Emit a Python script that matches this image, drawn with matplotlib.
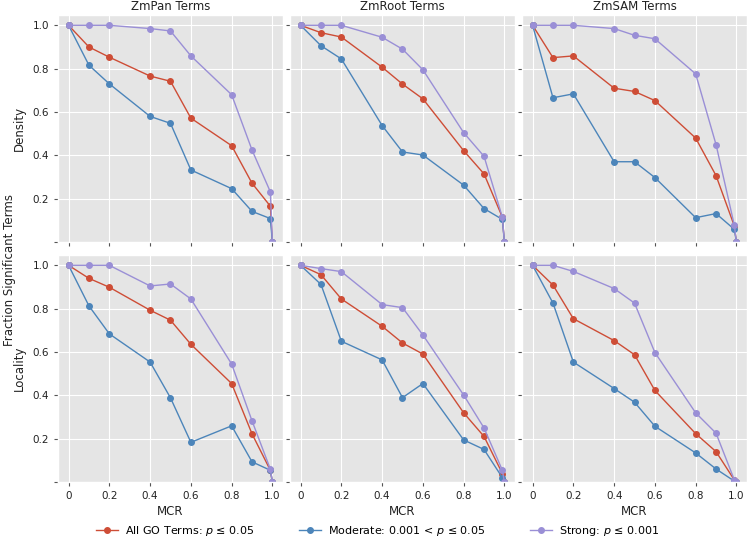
"""Fraction of significant GO terms against MCR, per network and metric."""

import matplotlib
matplotlib.use("Agg")
import matplotlib.pyplot as plt

# MCR values shared by every series
mcr = [0, 0.1, 0.2, 0.4, 0.5, 0.6, 0.8, 0.9, 0.99, 1.0]

networks = ["ZmPan Terms", "ZmRoot Terms", "ZmSAM Terms"]
metrics = ["Density", "Locality"]
series_labels = [
    "All GO Terms: $p$ \u2264 0.05",
    "Moderate: 0.001 < $p$ \u2264 0.05",
    "Strong: $p$ \u2264 0.001",
]

# Density row
pan_density_all = [1.0, 0.900, 0.853, 0.766, 0.742, 0.572, 0.445, 0.272, 0.166, 0.0]
pan_density_mod = [1.0, 0.816, 0.730, 0.580, 0.548, 0.333, 0.247, 0.142, 0.109, 0.0]
pan_density_str = [1.0, 1.0, 1.0, 0.985, 0.974, 0.859, 0.680, 0.425, 0.232, 0.0]

root_density_all = [1.0, 0.966, 0.946, 0.807, 0.729, 0.661, 0.422, 0.315, 0.115, 0.0]
root_density_mod = [1.0, 0.906, 0.845, 0.538, 0.416, 0.402, 0.263, 0.155, 0.105, 0.0]
root_density_str = [1.0, 1.0, 1.0, 0.945, 0.890, 0.795, 0.505, 0.396, 0.115, 0.0]

sam_density_all = [1.0, 0.851, 0.859, 0.710, 0.695, 0.653, 0.480, 0.307, 0.074, 0.0]
sam_density_mod = [1.0, 0.666, 0.684, 0.371, 0.371, 0.298, 0.113, 0.132, 0.059, 0.0]
sam_density_str = [1.0, 1.0, 1.0, 0.985, 0.954, 0.938, 0.776, 0.450, 0.077, 0.0]

# Locality row
pan_locality_all = [1.0, 0.940, 0.899, 0.793, 0.747, 0.636, 0.455, 0.223, 0.055, 0.0]
pan_locality_mod = [1.0, 0.813, 0.684, 0.554, 0.389, 0.184, 0.260, 0.094, 0.055, 0.0]
pan_locality_str = [1.0, 1.0, 1.0, 0.905, 0.914, 0.845, 0.545, 0.283, 0.060, 0.0]

root_locality_all = [1.0, 0.957, 0.845, 0.719, 0.642, 0.591, 0.320, 0.211, 0.040, 0.0]
root_locality_mod = [1.0, 0.912, 0.650, 0.564, 0.390, 0.455, 0.195, 0.151, 0.021, 0.0]
root_locality_str = [1.0, 0.985, 0.971, 0.819, 0.805, 0.679, 0.402, 0.250, 0.055, 0.0]

sam_locality_all = [1.0, 0.909, 0.754, 0.653, 0.588, 0.423, 0.224, 0.141, 0.010, 0.0]
sam_locality_mod = [1.0, 0.826, 0.554, 0.432, 0.369, 0.258, 0.135, 0.061, 0.005, 0.0]
sam_locality_str = [1.0, 1.0, 0.972, 0.893, 0.826, 0.598, 0.320, 0.226, 0.010, 0.0]

grid = [
    [
        (pan_density_all, pan_density_mod, pan_density_str),
        (root_density_all, root_density_mod, root_density_str),
        (sam_density_all, sam_density_mod, sam_density_str),
    ],
    [
        (pan_locality_all, pan_locality_mod, pan_locality_str),
        (root_locality_all, root_locality_mod, root_locality_str),
        (sam_locality_all, sam_locality_mod, sam_locality_str),
    ],
]

x_ticks = [0, 0.2, 0.4, 0.6, 0.8, 1.0]
x_tick_labels = ["0", "0.2", "0.4", "0.6", "0.8", "1.0"]
y_ticks = [0, 0.2, 0.4, 0.6, 0.8, 1.0]
y_tick_labels = ["", "0.2", "0.4", "0.6", "0.8", "1.0"]

plt.style.use("ggplot")
colors = ["#CE4D36", "#4C85BA", "#9A8FD6"]

fig, axes = plt.subplots(2, 3, figsize=(7.48, 5.4), dpi=100, sharex=True, sharey=True)
fig.subplots_adjust(left=0.0775, right=0.9987, top=0.972, bottom=0.107,
                    wspace=0.031, hspace=0.057)

handles = []
for row in range(2):
    for col in range(3):
        ax = axes[row][col]
        for values, color, label in zip(grid[row][col], colors, series_labels):
            line, = ax.plot(mcr, values, "-o", color=color, lw=1, ms=4, label=label)
            if row == 0 and col == 0:
                handles.append(line)
        ax.set_xlim(-0.052, 1.052)
        ax.set_ylim(0, 1.047)
        ax.set_xticks(x_ticks)
        ax.set_xticklabels(x_tick_labels)
        ax.set_yticks(y_ticks)
        ax.set_yticklabels(y_tick_labels)
        ax.tick_params(labelsize=7.5, colors="#555555", labelcolor="#222222", length=3)
        if row == 0:
            ax.set_title(networks[col], fontsize=8.5, color="#222222", pad=4)
        if row == 1:
            ax.set_xlabel("MCR", fontsize=8.5, color="#222222", labelpad=3)
        if col == 0:
            ax.set_ylabel(metrics[row], fontsize=8.5, color="#222222", labelpad=5)

fig.supylabel("Fraction Significant Terms", fontsize=8.5, color="#222222", x=0.004)

fig.legend(handles, series_labels, loc="center", bbox_to_anchor=(0.505, 0.016),
           ncol=3, frameon=False, fontsize=8, columnspacing=4.0, handlelength=2.0,
           handletextpad=0.6)

fig.savefig("out.png", dpi=100)
